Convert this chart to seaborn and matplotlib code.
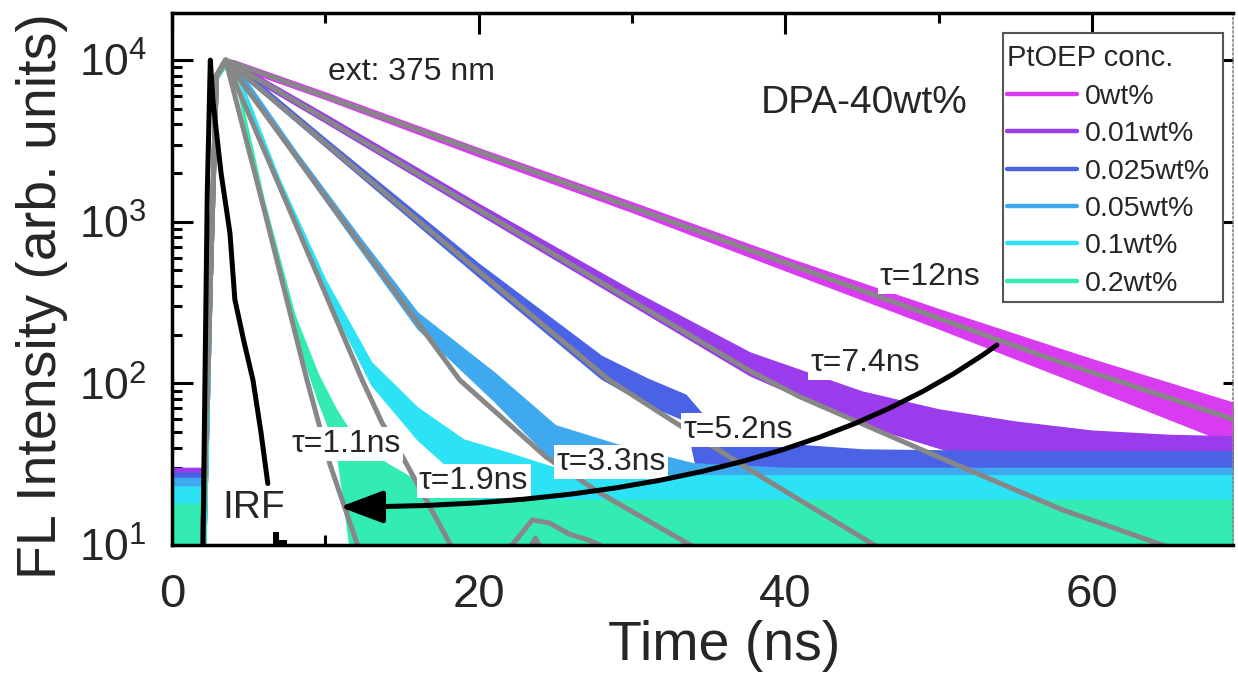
import matplotlib
matplotlib.use('Agg')
import matplotlib.pyplot as plt
import seaborn as sns
from matplotlib.lines import Line2D
from matplotlib.patches import Rectangle
from matplotlib.ticker import FixedLocator, LogLocator, NullFormatter, LogFormatterSciNotation

# ---------------- data ----------------
series_labels = ['0wt%', '0.01wt%', '0.025wt%', '0.05wt%', '0.1wt%', '0.2wt%']
series_colors = ['#D93CF0', '#9A3CEB', '#4A63E6', '#3FA9F0', '#2CE3F5', '#32ECB4']
tau_labels = ['τ=12ns', 'τ=7.4ns', 'τ=5.2ns', 'τ=3.3ns', 'τ=1.9ns', 'τ=1.1ns']

# measured decays: upper / lower edge of the noisy trace (counts)
t_0 = [0, 2.1, 2.9, 3.5, 4, 10, 20, 30, 40, 50, 60, 69.2]
hi_0 = [28, 28, 8400, 10000, 10000, 6310, 2850, 1320, 603, 288, 141, 76]
lo_0 = [5, 5, 7600, 9300, 9120, 5750, 2540, 1150, 501, 219, 93, 42]

t_1 = [0, 2.1, 2.9, 3.5, 4, 10, 20, 30, 37.7, 45, 50, 55, 60, 65, 69.2]
hi_1 = [30, 30, 8400, 9900, 9770, 4620, 1290, 376, 155, 89, 69, 58, 51, 48, 47]
lo_1 = [5, 5, 7600, 9200, 8910, 4120, 1120, 305, 112, 56, 40, 30, 26, 23, 21]

t_2 = [0, 2.1, 2.9, 3.5, 4, 10, 20, 28, 31, 33.5, 36, 45, 55, 69.2]
hi_2 = [28, 28, 8400, 9900, 9770, 3270, 550, 148, 107, 85, 45, 39, 38, 38]
lo_2 = [5, 5, 7600, 9200, 8910, 2920, 457, 107, 74, 59, 5, 5, 5, 5]

t_3 = [0, 2.1, 2.9, 3.5, 4, 8, 12, 16, 21, 25, 29, 34, 40, 69.2]
hi_3 = [26, 26, 8400, 9900, 9770, 2790, 861, 275, 117, 55, 42, 32, 30, 30]
lo_3 = [5, 5, 7600, 9200, 8910, 2480, 733, 219, 78, 32, 22, 5, 5, 5]

t_4 = [0, 2.1, 2.9, 3.5, 4, 7, 10, 13, 16, 19, 22, 25, 30, 69.2]
hi_4 = [23, 23, 8400, 9900, 9770, 1840, 437, 135, 71, 45, 37, 30, 27, 27]
lo_4 = [5, 5, 7600, 9200, 8910, 1640, 363, 98, 45, 25, 5, 5, 5, 5]

t_5 = [0, 2.1, 2.9, 3.5, 4, 6, 8, 9.5, 10.7, 12, 14, 17, 20, 69.2]
hi_5 = [18, 18, 8400, 9900, 9330, 1350, 263, 115, 69, 44, 32, 22, 19, 19]
lo_5 = [5, 5, 7600, 9200, 8510, 1175, 209, 79, 40, 5, 5, 5, 5, 5]

# fitted curves (gray)
fit_t_0 = [1.9, 2.9, 3.5, 37.7, 57.2, 69.2]
fit_v_0 = [5, 8000, 10000, 668, 143, 60]
fit_t_1 = [1.9, 2.9, 3.5, 20, 37.65, 40.9, 50, 58, 64.6, 69.2]
fit_v_1 = [5, 8000, 10000, 1190, 120, 83, 35, 16.6, 10, 7.1]
fit_t_2 = [1.9, 2.9, 3.5, 15, 28.5, 32.6, 38, 45.8, 50]
fit_v_2 = [5, 8000, 10000, 1230, 105, 59, 28, 10, 6.3]
fit_t_3 = [1.9, 2.9, 3.5, 10, 18.76, 24.4, 27.9, 33.8, 38]
fit_v_3 = [5, 8000, 10000, 1430, 105, 35, 21, 10, 6.3]
fit_t_4 = [1.9, 2.9, 3.5, 8, 12.4, 13.7, 15.05, 18.1, 19, 22.2, 23.5, 24.6, 25.9, 27.2, 27.9, 29]
fit_v_4 = [5, 8000, 10000, 1000, 105, 57, 35, 10.3, 7.9, 10, 14.3, 13.7, 11.7, 10.7, 10, 7.9]
fit_t_5 = [1.9, 2.9, 3.5, 6, 8.8, 10.3, 12.1, 13, 22.8, 23.7, 24.6]
fit_v_5 = [5, 8000, 10000, 1200, 105, 31.6, 10, 5, 7.9, 11, 7.9]

# instrument response function (main pulse + residual counts)
irf_t = [1.9, 2.02, 2.3, 2.5, 2.67, 3.2, 3.78, 4.1, 4.7, 5.28, 5.8, 6.25]
irf_v = [5, 10, 1500, 10000, 5600, 2000, 850, 330, 180, 105, 50, 24]
irf_tail_t = [6.58, 7.0, 7.0, 7.49]
irf_tail_v = [12, 12, 10.8, 10.8]

# annotation anchors (data coordinates)
tau_text_t = [49.45, 45.2, 36.9, 28.66, 19.67, 11.34]
tau_text_v = [455, 134, 51.5, 32.7, 24.9, 42.2]
arrow_start = (53.8, 172.6)
arrow_end = (10.94, 17.2)

x_ticks = [0, 20, 40, 60]
x_minor = [10, 30, 50]

# ---------------- style ----------------
sns.set_theme(style='ticks')
plt.rcParams['font.family'] = ['Liberation Sans', 'DejaVu Sans']
plt.rcParams['mathtext.fontset'] = 'custom'
plt.rcParams['mathtext.rm'] = 'Liberation Sans'
plt.rcParams['mathtext.default'] = 'regular'

fig = plt.figure(figsize=(12.38, 6.88), dpi=100)
ax = fig.add_axes([0.13893, 0.20785, 0.85703, 0.77398])

data_t = [t_0, t_1, t_2, t_3, t_4, t_5]
data_hi = [hi_0, hi_1, hi_2, hi_3, hi_4, hi_5]
data_lo = [lo_0, lo_1, lo_2, lo_3, lo_4, lo_5]
fits_t = [fit_t_0, fit_t_1, fit_t_2, fit_t_3, fit_t_4, fit_t_5]
fits_v = [fit_v_0, fit_v_1, fit_v_2, fit_v_3, fit_v_4, fit_v_5]

for t, hi, lo, c in zip(data_t, data_hi, data_lo, series_colors):
    ax.fill_between(t, lo, hi, color=c, edgecolor=c, linewidth=1.0, zorder=1)

fit_gray = '#878787'
for ft, fv in zip(fits_t, fits_v):
    sns.lineplot(x=ft, y=fv, ax=ax, color=fit_gray, linewidth=3.6,
                 estimator=None, sort=False, zorder=3)

sns.lineplot(x=irf_t, y=irf_v, ax=ax, color='black', linewidth=3.6,
             estimator=None, sort=False, zorder=4)
ax.fill_between(irf_tail_t, 5, irf_tail_v, color='black', linewidth=0, zorder=4, step='post')

ax.set_yscale('log')
ax.set_xlim(0, 69.2)
ax.set_ylim(10, 19700)

# ticks
ax.set_axisbelow(True)
ax.xaxis.set_major_locator(FixedLocator(x_ticks))
ax.xaxis.set_minor_locator(FixedLocator(x_minor))
ax.yaxis.set_major_locator(LogLocator(base=10, numticks=10))
ax.yaxis.set_major_formatter(LogFormatterSciNotation())
ax.yaxis.set_minor_locator(LogLocator(base=10, subs=range(2, 10), numticks=20))
ax.yaxis.set_minor_formatter(NullFormatter())
ax.tick_params(which='both', direction='in', top=True, right=True, width=2.2, color='black')
ax.tick_params(which='major', length=15)
ax.tick_params(which='minor', length=7.5)
ax.tick_params(axis='y', which='minor', right=False)
ax.tick_params(axis='x', labelsize=34, pad=20)
ax.tick_params(axis='y', labelsize=32, pad=18)
for sp in ['left', 'top', 'bottom']:
    ax.spines[sp].set_linewidth(2.5)
    ax.spines[sp].set_color('black')
    ax.spines[sp].set_zorder(10)
ax.spines['right'].set_linestyle(':')
ax.spines['right'].set_linewidth(1.2)
ax.spines['right'].set_color('#888888')
for tk in ax.yaxis.get_major_ticks():
    tk.tick2line.set_markersize(7)

# axis labels
fig.text(724 / 1238, 1 - 660 / 688, 'Time (ns)', ha='center', va='baseline', fontsize=40)
fig.text(42 / 1238, 1 - 296 / 688, 'FL Intensity (arb. units)', ha='center', va='center',
         rotation=90, fontsize=40)

# annotations
ax.text(10.16, 8440, 'ext: 375 nm', ha='left', va='center', fontsize=23, zorder=5)
ax.text(51.86, 5420, 'DPA-40wt%', ha='right', va='center', fontsize=28, zorder=5)
for lab, tt, vv in zip(tau_labels, tau_text_t, tau_text_v):
    ax.text(tt, vv, lab, ha='center', va='center', fontsize=23, zorder=5,
            bbox=dict(facecolor='white', edgecolor='none', pad=1.5))
ax.text(5.34, 16.9, 'IRF', ha='center', va='center', fontsize=28, zorder=5)

ax.annotate('', xy=arrow_end, xytext=arrow_start, zorder=6,
            arrowprops=dict(arrowstyle='-|>,head_length=0.8,head_width=0.3',
                            connectionstyle='angle3,angleA=36,angleB=0',
                            color='black', lw=3.6, mutation_scale=33,
                            shrinkA=0, shrinkB=0))

# legend (frame drawn separately to match the boxed layout)
ax.add_patch(Rectangle((0.7832, 0.4563), 0.2074, 0.5052, transform=ax.transAxes,
                       facecolor='white', edgecolor='#555555', linewidth=1.5,
                       zorder=19, clip_on=False))
handles = [Line2D([], [], color=c, lw=3.2) for c in series_colors]
leg = ax.legend(handles, series_labels, title='PtOEP conc.', loc='upper left',
                bbox_to_anchor=(0.787, 0.940), borderaxespad=0, fontsize=20.5,
                title_fontsize=21, frameon=False,
                handlelength=2.45, handletextpad=0.3, labelspacing=0.4, borderpad=0.0,
                alignment='left')
leg.set_zorder(20)

fig.savefig('out.png', dpi=100)
